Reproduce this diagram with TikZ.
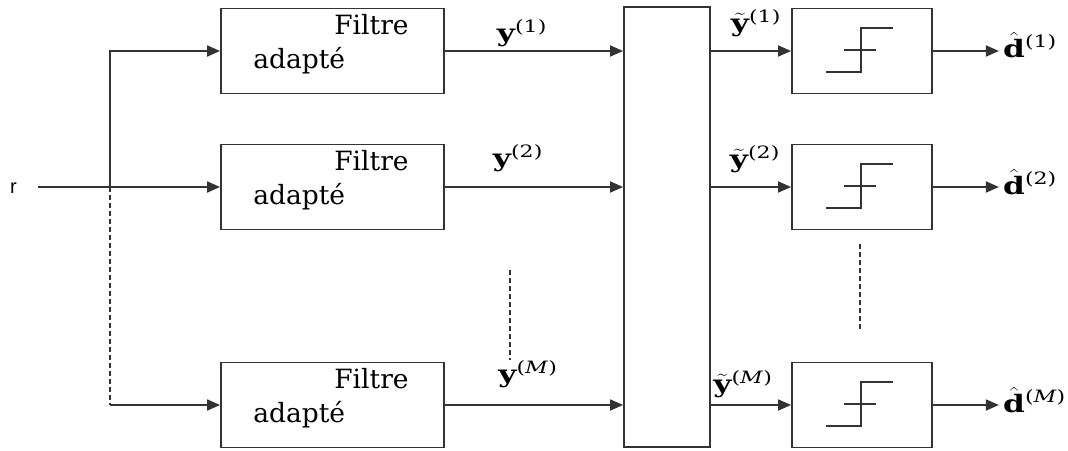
\documentclass[tikz,border=0pt]{standalone}
\usepackage{fontspec}
\setmainfont{DejaVu Serif}
\newfontfamily\labelsans{Liberation Sans}
\usetikzlibrary{arrows.meta,calc}

% superscript index set as text, a little larger than script size
\newcommand{\idx}[1]{^{\mbox{\fontsize{17}{18}\selectfont #1}}}
% signal labels are set slightly wide
\newcommand{\siglabel}[1]{\scalebox{1.3}[1]{$#1$}}

\begin{document}
\begin{tikzpicture}[x=1pt,y=-1pt,
  wire/.style={line width=1.8pt, draw=black!80},
  arr/.style={wire, -{Triangle[length=13pt,width=11pt]}},
  dots/.style={wire, dash pattern=on 5pt off 3pt},
  block/.style={draw=black!80, line width=1.8pt, rectangle, inner sep=0pt},
  filt/.style={block, minimum width=223pt, minimum height=85pt},
  dec/.style={block, minimum width=140pt, minimum height=85pt},
  txt/.style={font=\fontsize{26.5}{30}\selectfont, inner sep=0pt, anchor=base west},
  sig/.style={font=\fontsize{24}{26}\selectfont, inner sep=0pt},
  stepfn/.style={line width=1.6pt, draw=black!80}]

\useasboundingbox (0,0) rectangle (1068,450);

% matched filter bank
\node[filt] (f1) at (332.5,51) {};
\node[filt] (f2) at (332.5,187) {};
\node[filt] (f3) at (332.5,405) {};

% combining block
\node[block, minimum width=86pt, minimum height=440pt] (mix) at (667,227) {};

% decision blocks
\node[dec] (d1) at (862,51) {};
\node[dec] (d2) at (862,187) {};
\node[dec] (d3) at (862,405) {};

\foreach \i in {1,2,3}{
  \node[txt] (ft\i) at ([shift={(114,27)}]f\i.north west) {Filtre};
  \node[txt] (fa\i) at ([shift={(33,61)}]f\i.north west) {adapté};
  % hard-limiter symbol
  \draw[stepfn] ([shift={(-36,21)}]d\i.center) -- ++(35,0) -- ++(0,-44) -- ++(32,0);
  \draw[stepfn] ([shift={(-18,-1)}]d\i.center) -- ++(32,0);
  % links
  \draw[arr] (f\i.east) -- (mix.west |- f\i.east);
  \draw[arr] (mix.east |- d\i.west) -- (d\i.west);
  \draw[arr] (d\i.east) -- ++(66,0) coordinate (o\i);
}

% input and distribution
\node[font=\labelsans\fontsize{20}{22}\selectfont, inner sep=0pt, anchor=base west] (r) at (10,193) {r};
\coordinate (rin) at (38,187);
\coordinate (split) at (110,187);
\coordinate (low) at (split |- f3.west);
\draw[arr] (rin) -- (f2.west);
\draw[arr] (split) |- (f1.west);
\draw[dots] (split) -- (low);
\draw[arr] (low) -- (f3.west);

% omitted branches
\coordinate (ma) at (510,270);
\coordinate (mb) at (510,360);
\draw[dots] (ma) -- (mb);
\coordinate (da) at (860,244);
\coordinate (db) at (860,330);
\draw[dots] (da) -- (db);

% signal labels
\node[sig, anchor=south] (y1) at (522,47) {\siglabel{\mathbf{y}\idx{(1)}}};
\node[sig, anchor=south] (y2) at (518,172) {\siglabel{\mathbf{y}\idx{(2)}}};
\node[sig, anchor=south] (y3) at (528,388) {\siglabel{\mathbf{y}\idx{(\textit{M})}}};
\node[sig, anchor=south] (t1) at (756,37) {\siglabel{\tilde{\mathbf{y}}\idx{(1)}}};
\node[sig, anchor=south] (t2) at (755,173) {\siglabel{\tilde{\mathbf{y}}\idx{(2)}}};
\node[sig, anchor=south] (t3) at (743,398) {\siglabel{\tilde{\mathbf{y}}\idx{(\textit{M})}}};
\node[sig, anchor=base west] (h1) at (1003,57) {\siglabel{\hat{\mathbf{d}}\idx{(1)}}};
\node[sig, anchor=base west] (h2) at (1003,194) {\siglabel{\hat{\mathbf{d}}\idx{(2)}}};
\node[sig, anchor=base west] (h3) at (1003,412) {\siglabel{\hat{\mathbf{d}}\idx{(\textit{M})}}};
\end{tikzpicture}
\end{document}
